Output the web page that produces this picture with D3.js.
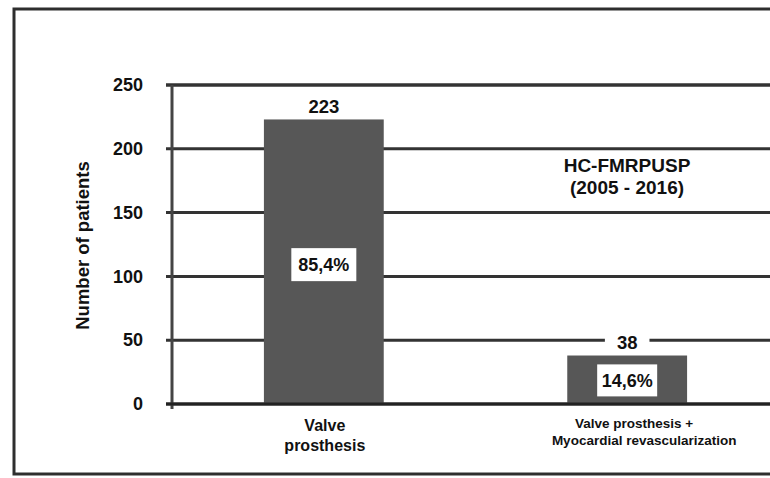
<!DOCTYPE html>
<html>
<head>
<meta charset="utf-8">
<script src="https://cdn.jsdelivr.net/npm/d3@7"></script>
<style>
  html, body { margin: 0; padding: 0; background: #fff; }
  svg { display: block; font-family: Arial, "Liberation Sans", sans-serif; }
</style>
</head>
<body>
<svg id="chart" width="770" height="478"></svg>
<script>
// ---- Data ----
const categories = [["Valve", "prosthesis"], ["Valve prosthesis +", "Myocardial revascularization"]];
const values = [223, 38];
const percentLabels = ["85,4%", "14,6%"];
const yTicks = [0, 50, 100, 150, 200, 250];
const yLabel = "Number of patients";
const noteLines = ["HC-FMRPUSP", "(2005 - 2016)"];

(function () {
const svg = d3.select("#chart");
const W = 770, H = 478;
const pLeft = 172, pRight = 779, pTop = 85, pBottom = 404;

// Outer frame (right edge falls outside the picture)
svg.append("rect")
  .attr("x", 14).attr("y", 9).attr("width", 820).attr("height", 465)
  .attr("fill", "#fff").attr("stroke", "#2e2e2e").attr("stroke-width", 3);

const y = d3.scaleLinear().domain([0, 250]).range([pBottom, pTop]);
const x = d3.scaleBand().domain(d3.range(values.length))
  .range([pLeft, pRight]).paddingInner(0.605).paddingOuter(0.303);

// Gridlines + ticks
svg.append("g").selectAll("line.grid").data(yTicks).join("line")
  .attr("class", "grid")
  .attr("x1", pLeft - 6).attr("x2", W)
  .attr("y1", d => y(d)).attr("y2", d => y(d))
  .attr("stroke", "#333")
  .attr("stroke-width", d => d === 250 ? 3.5 : 3);

// Y axis
const yAxis = d3.axisLeft(y).tickValues(yTicks).tickSize(0).tickPadding(29);
const ya = svg.append("g").attr("transform", `translate(${pLeft},0)`).call(yAxis);
ya.select(".domain").remove();
ya.selectAll("text")
  .attr("font-size", 18).attr("font-weight", "bold").attr("fill", "#111")
  .attr("font-family", "Arial, 'Liberation Sans', sans-serif");

svg.append("line")
  .attr("x1", pLeft).attr("x2", pLeft)
  .attr("y1", y(250)).attr("y2", y(0) + 5)
  .attr("stroke", "#444").attr("stroke-width", 3);

// Y label
svg.append("text")
  .attr("transform", `translate(89,${(y(0) + y(250)) / 2 + 1}) rotate(-90)`)
  .attr("text-anchor", "middle")
  .attr("font-size", 18.5).attr("font-weight", "bold").attr("fill", "#111")
  .text(yLabel);

// Bars
svg.selectAll("rect.bar").data(values).join("rect")
  .attr("class", "bar")
  .attr("x", (d, i) => x(i)).attr("width", x.bandwidth())
  .attr("y", d => y(d)).attr("height", d => y(0) - y(d))
  .attr("fill", "#575757");

// Value labels with white background
const vl = svg.selectAll("g.vlab").data(values).join("g")
  .attr("class", "vlab")
  .attr("transform", (d, i) => `translate(${x(i) + x.bandwidth() / 2},${y(d) - 13})`);
vl.each(function (d) {
  const gg = d3.select(this);
  const t = gg.append("text")
    .attr("text-anchor", "middle").attr("dy", "0.36em")
    .attr("font-size", 18.5).attr("font-weight", "bold").attr("fill", "#111")
    .text(d);
  const bb = t.node().getBBox();
  gg.insert("rect", "text")
    .attr("x", bb.x - 12).attr("y", bb.y + 3)
    .attr("width", bb.width + 24).attr("height", bb.height - 6)
    .attr("fill", "#fff");
});

// Percent labels in white boxes inside bars
const pl = svg.selectAll("g.plab").data(values).join("g")
  .attr("class", "plab")
  .attr("transform", (d, i) => {
    const cx = x(i) + x.bandwidth() / 2;
    const cy = i === 0 ? y(110) + 1 : y(18.5);
    return `translate(${cx},${cy})`;
  });
pl.each(function (d, i) {
  const gg = d3.select(this);
  const boxW = i === 0 ? 65 : 60, boxH = i === 0 ? 33 : 32;
  gg.append("rect")
    .attr("x", -boxW / 2).attr("y", -boxH / 2)
    .attr("width", boxW).attr("height", boxH)
    .attr("fill", "#fff");
  gg.append("text")
    .attr("text-anchor", "middle").attr("dy", "0.36em")
    .attr("font-size", 18).attr("font-weight", "bold").attr("fill", "#111")
    .text(percentLabels[i]);
});

// X axis baseline
svg.append("line")
  .attr("x1", pLeft - 6).attr("x2", W)
  .attr("y1", y(0)).attr("y2", y(0))
  .attr("stroke", "#222").attr("stroke-width", 3);

// Category labels
const cl = svg.selectAll("text.cat").data(categories).join("text")
  .attr("class", "cat")
  .attr("text-anchor", "middle")
  .attr("font-weight", "bold").attr("fill", "#111")
  .attr("font-size", (d, i) => i === 0 ? 16 : 13.5);
cl.each(function (d, i) {
  const t = d3.select(this);
  const base = x(i) + x.bandwidth() / 2;
  const y0 = i === 0 ? 431 : 428;
  const lh = i === 0 ? 20 : 17;
  d.forEach((line, k) => {
    const cx = i === 0 ? base + 1 : base + (k === 0 ? 7 : 17);
    t.append("tspan").attr("x", cx).attr("y", y0 + k * lh).text(line);
  });
});

// Note
const note = svg.append("text")
  .attr("text-anchor", "middle")
  .attr("font-size", 19).attr("font-weight", "bold").attr("fill", "#111");
noteLines.forEach((line, k) => {
  note.append("tspan").attr("x", 627).attr("y", 172 + k * 22).text(line);
});
})();
</script>
</body>
</html>
